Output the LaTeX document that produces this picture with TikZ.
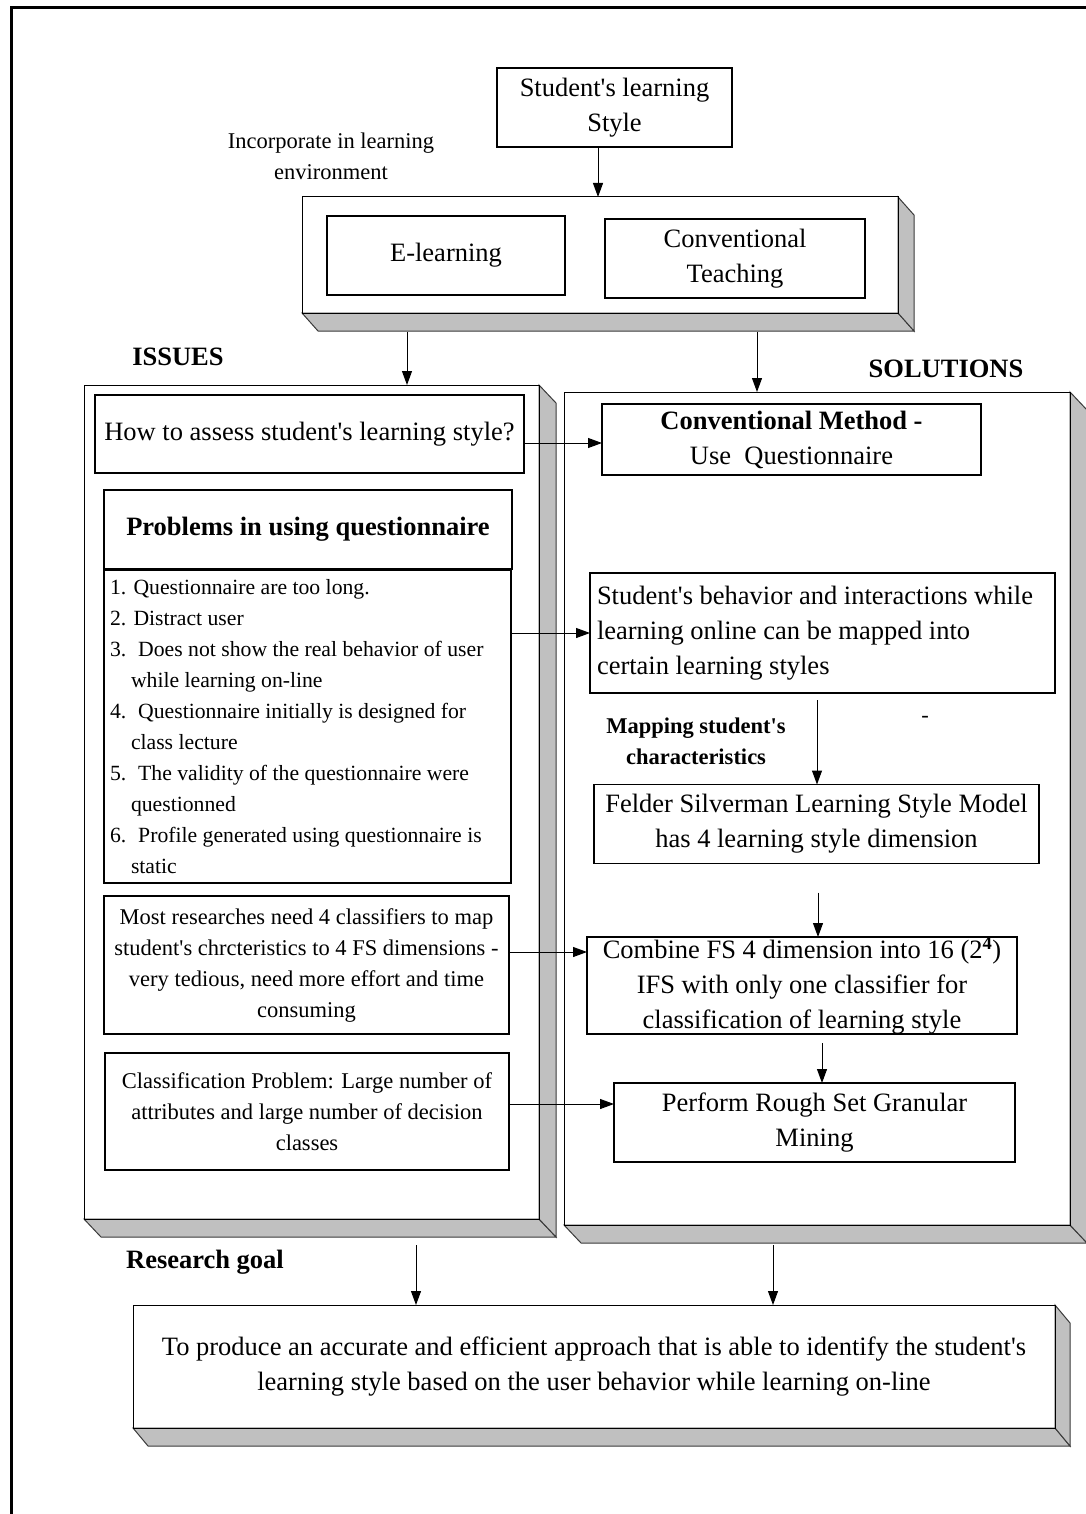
\documentclass[tikz,border=0pt]{standalone}
\usepackage{fontspec}
\setmainfont{Liberation Serif}
\usetikzlibrary{arrows.meta}
\definecolor{bevelgray}{HTML}{C0C0C0}
\definecolor{edgegray}{HTML}{3A3A3A}
\newcommand\bodyf{\fontsize{26.5}{35}\selectfont}
\newcommand\smallf{\fontsize{22.5}{31}\selectfont}
\newcommand\listf{\fontsize{21.7}{31}\selectfont}
\newcommand\q{\textquotesingle}
\newcommand\bevelbox[3]{%
 \draw[bev] (#1.south west) -- (#1.south east) -- ([shift={(#2,#3)}]#1.south east) -- ([shift={(#2,#3)}]#1.south west) -- cycle;
 \draw[bev] (#1.north east) -- ([shift={(#2,#3)}]#1.north east) -- ([shift={(#2,#3)}]#1.south east) -- (#1.south east) -- cycle;
 \draw[black, line width=1pt] (#1.south west) rectangle (#1.north east);}
\begin{document}
\begin{tikzpicture}[x=1pt,y=-1pt,
 box/.style={draw=black, line width=1.2pt, fill=white, inner sep=0pt, outer sep=0pt, align=center, font=\bodyf},
 front/.style={draw=black, line width=1pt, fill=white, inner sep=0pt, outer sep=0pt, align=center, font=\bodyf},
 bev/.style={draw=edgegray, line width=1pt, fill=bevelgray, line join=miter},
 arr/.style={draw=black, line width=1pt, -{Triangle[length=14pt,width=10pt]}},
 lbl/.style={inner sep=0pt, outer sep=0pt, align=center},
 ]
\useasboundingbox (0,0) rectangle (1085,1514);
% outer frame (partly visible)
\draw[line width=3pt] (11,1530) -- (11,8) -- (1100,8);

% top
\node[box, minimum width=235pt, minimum height=79pt] (stud) at (614.5,107.5) {Student\q s learning\\Style};
\node[lbl, font=\smallf] (inc) at (331,156) {Incorporate in learning\\environment};

% environment 3D box
\node[front, minimum width=596pt, minimum height=116pt] (env) at (600,255) {};
\bevelbox{env}{16}{18}
\node[box, minimum width=238pt, minimum height=79pt] (el) at (446,255.5) {E-learning};
\node[box, minimum width=260pt, minimum height=79pt] (ct) at (735,258.5) {Conventional\\Teaching};

% headings
\node[lbl, font=\bodyf\bfseries] (issl) at (178,357) {ISSUES};
\node[lbl, font=\bodyf\bfseries] (soll) at (946,369) {SOLUTIONS};

% big boxes
\node[front, minimum width=455pt, minimum height=834pt] (iss) at (311.5,802) {};
\bevelbox{iss}{17}{18}
\node[front, minimum width=506pt, minimum height=833pt] (sol) at (817,808.5) {};
\bevelbox{sol}{17}{18}

% issues column
\node[box, minimum width=429pt, minimum height=78pt] (how) at (309.5,434) {How to assess student\q s learning style?};
\node[box, minimum width=408pt, minimum height=79pt, font=\bodyf\bfseries] (prob) at (308,529.5) {Problems in using questionnaire};
\node[box, minimum width=407pt, minimum height=313pt, font=\listf, align=flush left, text width=395pt] (list) at (307.5,726.5) {%
1. Questionnaire are too long.\\
2. Distract user\\
3.\hspace{0.55em}Does not show the real behavior of user\\
\hspace{21pt}while learning on-line\\
4.\hspace{0.55em}Questionnaire initially is designed for\\
\hspace{21pt}class lecture\\
5.\hspace{0.55em}The validity of the questionnaire were\\
\hspace{21pt}questionned\\
6.\hspace{0.55em}Profile generated using questionnaire is\\
\hspace{21pt}static};
\node[box, minimum width=405pt, minimum height=138pt, font=\smallf] (res) at (306.5,965) {Most researches need 4 classifiers to map\\student\q s chrcteristics to 4 FS dimensions -\\very tedious, need more effort and time\\consuming};
\node[box, minimum width=404pt, minimum height=117pt, font=\smallf] (cls) at (307,1111.5) {Classification Problem: Large number of\\attributes and large number of decision\\classes};

% solutions column
\node[box, minimum width=379pt, minimum height=71pt] (cm) at (791.5,439.5) {\textbf{Conventional Method -}\\Use\ \ Questionnaire};
\node[box, minimum width=465pt, minimum height=120pt, align=flush left, text width=451pt] (beh) at (822.5,633) {Student\q s behavior and interactions while\\learning online can be mapped into\\certain learning styles};
\node[lbl, font=\smallf\bfseries] (map) at (696,741) {Mapping student\q s\\characteristics};
\node[lbl, font=\smallf] (dash) at (925,719) {-};
\node[box, minimum width=445pt, minimum height=79pt] (fel) at (816.5,824) {Felder Silverman Learning Style Model\\has 4 learning style dimension};
\node[box, minimum width=430pt, minimum height=97pt] (comb) at (802,985.5) {Combine FS 4 dimension into 16 (2\textsuperscript{\textbf{4}})\\IFS with only one classifier for\\classification of learning style};
\node[box, minimum width=401pt, minimum height=79pt] (perf) at (814.5,1122.5) {Perform Rough Set Granular\\Mining};

% goal
\node[lbl, font=\bodyf\bfseries] (rg) at (205,1262) {Research goal};
\node[front, minimum width=922pt, minimum height=123pt] (goal) at (594,1366.5) {To produce an accurate and efficient approach that is able to identify the student\q s\\learning style based on the user behavior while learning on-line};
\bevelbox{goal}{15}{18}

% helper coordinates
\coordinate (x598) at (598,0);
\coordinate (x407) at (407,0);
\coordinate (x757) at (757,0);
\coordinate (x817) at (817,0);
\coordinate (x818) at (818,0);
\coordinate (x822) at (822,0);
\coordinate (x416) at (416,0);
\coordinate (x773) at (773,0);
\coordinate (y443) at (0,443);
\coordinate (y952) at (0,952);
\coordinate (y1104) at (0,1104);
\coordinate (envb) at ([yshift=-19pt]env.south);
\coordinate (behb) at ([yshift=-7pt]beh.south);
\coordinate (felb) at ([yshift=-29pt]fel.south);
\coordinate (combb) at ([yshift=-9pt]comb.south);
\coordinate (colb) at (0,1245);

% connectors
\draw[arr] (x598 |- stud.south) -- (x598 |- env.north);
\draw[arr] (x407 |- envb) -- (x407 |- iss.north);
\draw[arr] (x757 |- envb) -- (x757 |- sol.north);
\draw[arr] (how.east |- y443) -- (cm.west |- y443);
\draw[arr] (list.east |- beh.west) -- (beh.west);
\draw[arr] (x817 |- behb) -- (x817 |- fel.north);
\draw[arr] (x818 |- felb) -- (x818 |- comb.north);
\draw[arr] (res.east |- y952) -- (comb.west |- y952);
\draw[arr] (x822 |- combb) -- (x822 |- perf.north);
\draw[arr] (cls.east |- y1104) -- (perf.west |- y1104);
\draw[arr] (x416 |- colb) -- (x416 |- goal.north);
\draw[arr] (x773 |- colb) -- (x773 |- goal.north);
\end{tikzpicture}
\end{document}
